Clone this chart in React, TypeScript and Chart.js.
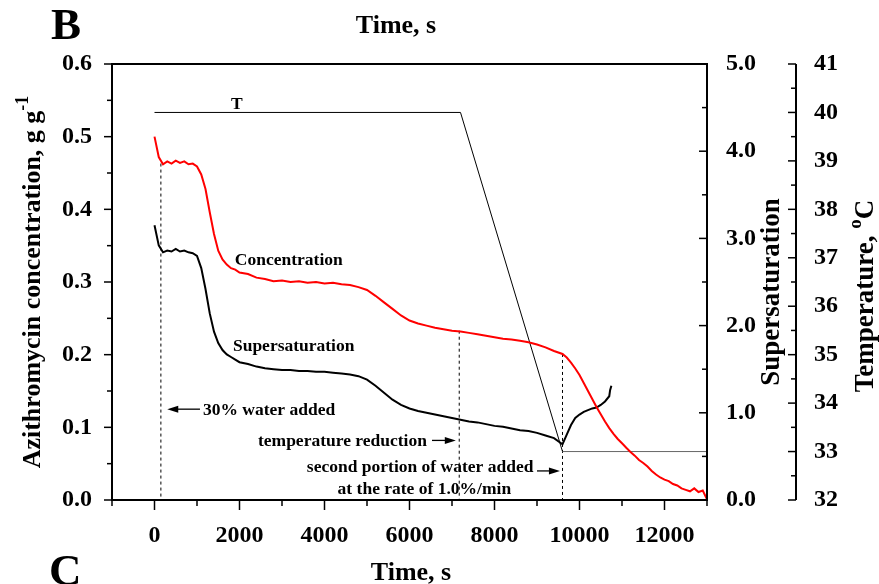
import React, { useEffect, useRef } from 'react';
import { Chart, registerables } from 'chart.js';

Chart.register(...registerables);

const FONT = '"Liberation Serif", "Times New Roman", serif';

// ---- axis ranges / tick labels ----
const X_MIN = -1000;
const X_MAX = 13000;
const X_LABELS = [0, 2000, 4000, 6000, 8000, 10000, 12000];
const CONC_MIN = 0;
const CONC_MAX = 0.6;
const CONC_LABELS = [0, 0.1, 0.2, 0.3, 0.4, 0.5, 0.6];
const SUP_MIN = 0;
const SUP_MAX = 5;
const SUP_LABELS = [0, 1, 2, 3, 4, 5];
const TEMP_MIN = 32;
const TEMP_MAX = 41;
const TEMP_LABELS = [32, 33, 34, 35, 36, 37, 38, 39, 40, 41];

// ---- concentration (g/g) ----
const concTime = [
  0, 100, 200, 300, 400, 500, 600, 700, 800, 900, 1000, 1100, 1200, 1300, 1400, 1500, 1600, 1700, 1800, 1900, 2000,
  2200, 2400, 2600, 2800, 3000, 3200, 3400, 3600, 3800, 4000, 4200, 4400, 4600, 4800, 5000, 5200, 5400, 5600, 5800,
  6000, 6200, 6400, 6600, 6800, 7000, 7200, 7400, 7600, 7800, 8000, 8200, 8400, 8600, 8800, 9000, 9200, 9400, 9600,
  9700, 9800, 9900, 10000, 10100, 10200, 10300, 10400, 10500, 10600, 10700, 10800, 10900, 11000, 11100, 11200, 11300,
  11400, 11500, 11600, 11700, 11800, 11900, 12000, 12100, 12200, 12300, 12400, 12500, 12600, 12700, 12800, 12900, 13000,
];
const concValue = [
  0.500, 0.472, 0.462, 0.466, 0.463, 0.467, 0.464, 0.466, 0.462, 0.463, 0.459, 0.448, 0.428, 0.396, 0.366, 0.343, 0.331, 0.324, 0.319, 0.317, 0.313,
  0.311, 0.306, 0.304, 0.301, 0.302, 0.300, 0.301, 0.299, 0.300, 0.298, 0.299, 0.297, 0.296, 0.293, 0.289, 0.281, 0.272, 0.263, 0.254,
  0.247, 0.243, 0.240, 0.237, 0.235, 0.233, 0.232, 0.230, 0.228, 0.226, 0.224, 0.222, 0.221, 0.219, 0.217, 0.214, 0.210, 0.205, 0.201,
  0.196, 0.189, 0.181, 0.172, 0.161, 0.150, 0.139, 0.128, 0.118, 0.108, 0.099, 0.091, 0.084, 0.078, 0.072, 0.066, 0.061,
  0.055, 0.051, 0.046, 0.040, 0.035, 0.031, 0.028, 0.026, 0.022, 0.020, 0.016, 0.014, 0.012, 0.016, 0.011, 0.013, 0.001,
];

// ---- supersaturation ----
const supTime = [
  0, 100, 200, 300, 400, 500, 600, 700, 800, 900, 1000, 1100, 1200, 1300, 1400, 1500, 1600, 1700, 1800, 1900, 2000,
  2200, 2400, 2600, 2800, 3000, 3200, 3400, 3600, 3800, 4000, 4200, 4400, 4600, 4800, 5000, 5200, 5400, 5600, 5800,
  6000, 6200, 6400, 6600, 6800, 7000, 7200, 7400, 7600, 7800, 8000, 8200, 8400, 8600, 8800, 9000, 9200, 9400, 9600,
  9700, 9800, 9900, 10000, 10100, 10200, 10300, 10400, 10500, 10600, 10700, 10720, 10750,
];
const supValue = [
  3.15, 2.92, 2.84, 2.86, 2.85, 2.88, 2.85, 2.86, 2.84, 2.83, 2.80, 2.66, 2.42, 2.14, 1.93, 1.80, 1.72, 1.67, 1.64, 1.61, 1.58,
  1.56, 1.53, 1.51, 1.50, 1.49, 1.49, 1.48, 1.48, 1.47, 1.47, 1.46, 1.45, 1.44, 1.42, 1.38, 1.31, 1.23, 1.15, 1.09,
  1.05, 1.02, 1.00, 0.98, 0.96, 0.94, 0.92, 0.90, 0.89, 0.87, 0.85, 0.84, 0.82, 0.80, 0.79, 0.77, 0.74, 0.71, 0.64,
  0.75, 0.86, 0.94, 0.98, 1.01, 1.03, 1.05, 1.06, 1.09, 1.13, 1.19, 1.26, 1.31,
];

// ---- temperature profile (°C) ----
const tempTime = [0, 7200, 9600, 13000];
const tempValue = [40, 40, 33, 33];

// ---- event markers (dashed verticals, from concentration curve to 0) ----
const eventTime = [150, 7170, 9600];
const eventConc = [0.463, 0.233, 0.201];

function richText(
  ctx: CanvasRenderingContext2D,
  parts: { t: string; sup?: boolean }[],
  x: number,
  y: number,
  size: number,
  align: 'left' | 'center' | 'right',
  angle = 0,
) {
  ctx.save();
  ctx.translate(x, y);
  ctx.rotate(angle);
  const mainFont = `bold ${size}px ${FONT}`;
  const supFont = `bold ${Math.round(size * 0.7)}px ${FONT}`;
  let total = 0;
  const widths = parts.map((p) => {
    ctx.font = p.sup ? supFont : mainFont;
    const w = ctx.measureText(p.t).width;
    total += w;
    return w;
  });
  let cx = align === 'center' ? -total / 2 : align === 'right' ? -total : 0;
  ctx.textAlign = 'left';
  ctx.textBaseline = 'alphabetic';
  ctx.fillStyle = '#000';
  parts.forEach((p, i) => {
    ctx.font = p.sup ? supFont : mainFont;
    ctx.fillText(p.t, cx, p.sup ? -size * 0.45 : 0);
    cx += widths[i];
  });
  ctx.restore();
}

const decor = {
  id: 'decor',
  afterDraw(chart: any) {
    const ctx: CanvasRenderingContext2D = chart.ctx;
    const { left, right, top, bottom } = chart.chartArea;
    const xs = chart.scales.x;
    const ys = chart.scales.y;
    const ys1 = chart.scales.y1;
    const ys2 = chart.scales.y2;
    const tx = ys2.left + 11;
    ctx.save();
    ctx.strokeStyle = '#000';
    ctx.fillStyle = '#000';
    const seg = (a: number, b: number, c: number, d: number, w: number) => {
      ctx.lineWidth = w;
      ctx.beginPath();
      ctx.moveTo(a, b);
      ctx.lineTo(c, d);
      ctx.stroke();
    };
    // frame
    seg(left - 1, top, right + 1, top, 2);
    seg(left - 1, bottom, right + 1, bottom, 2);
    seg(left, top, left, bottom, 2);
    seg(right, top, right, bottom, 2);
    seg(tx, top, tx, bottom, 2);
    // x ticks (outward)
    for (let t = X_MIN; t <= X_MAX; t += 1000) {
      const px = xs.getPixelForValue(t);
      seg(px, bottom, px, bottom + (t % 2000 === 0 ? 10 : 6), 1.5);
    }
    // left ticks (outward)
    for (let k = 0; k <= 12; k++) {
      const py = ys.getPixelForValue(CONC_MIN + k * 0.05);
      seg(left - (k % 2 === 0 ? 8 : 5), py, left, py, 1.5);
    }
    // supersaturation ticks (inward)
    for (let k = 0; k <= 10; k++) {
      const py = ys1.getPixelForValue(SUP_MIN + k * 0.5);
      seg(right - (k % 2 === 0 ? 8 : 5), py, right, py, 1.5);
    }
    // temperature ticks (leftward)
    for (let k = 0; k <= 18; k++) {
      const py = ys2.getPixelForValue(TEMP_MIN + k * 0.5);
      seg(tx - (k % 2 === 0 ? 8 : 5), py, tx, py, 1.5);
    }

    // axis titles
    richText(ctx, [{ t: 'Azithromycin concentration, g g' }, { t: '-1', sup: true }], 40, (top + bottom) / 2, 26, 'center', -Math.PI / 2);
    richText(ctx, [{ t: 'Supersaturation' }], 779, 292, 27, 'center', -Math.PI / 2);
    richText(ctx, [{ t: 'Temperature, ' }, { t: 'o', sup: true }, { t: 'C' }], 873, 296, 27, 'center', -Math.PI / 2);
    richText(ctx, [{ t: 'Time, s' }], 396, 33, 26, 'center');
    richText(ctx, [{ t: 'Time, s' }], 411, 580, 26, 'center');
    richText(ctx, [{ t: 'B' }], 51, 39, 45, 'left');
    richText(ctx, [{ t: 'C' }], 49, 585, 45, 'left');

    // annotations (placed in data coordinates)
    const X = (t: number) => xs.getPixelForValue(t);
    const Y = (v: number) => ys.getPixelForValue(v);
    const AS = 17.5;
    const mid = (v: number) => Y(v) + 6; // baseline for text centred on v
    richText(ctx, [{ t: 'Concentration' }], X(1890), mid(0.332), AS, 'left');
    richText(ctx, [{ t: 'Supersaturation' }], X(1845), mid(0.213), AS, 'left');
    richText(ctx, [{ t: 'T' }], X(1940), ys2.getPixelForValue(40.2) + 6, AS, 'center');
    richText(ctx, [{ t: '30% water added' }], X(1140), mid(0.125), AS, 'left');
    richText(ctx, [{ t: 'temperature reduction' }], X(6410), mid(0.082), AS, 'right');
    richText(ctx, [{ t: 'second portion of water added' }], X(6250), mid(0.047), AS, 'center');
    richText(ctx, [{ t: 'at the rate of 1.0%/min' }], X(6350), mid(0.0165), AS, 'center');

    const arrow = (x1: number, x2: number, yy: number) => {
      // from x1 to x2, head at x2
      const dir = Math.sign(x2 - x1);
      seg(x1, yy, x2 - dir * 9, yy, 1.3);
      ctx.beginPath();
      ctx.moveTo(x2, yy);
      ctx.lineTo(x2 - dir * 11, yy - 3.5);
      ctx.lineTo(x2 - dir * 11, yy + 3.5);
      ctx.closePath();
      ctx.fill();
    };
    arrow(X(1070), X(300), Y(0.125));
    arrow(X(6530), X(7090), Y(0.082));
    arrow(X(9000), X(9540), Y(0.040));
    ctx.restore();
  },
};

export default function App() {
  const ref = useRef<HTMLCanvasElement>(null);
  useEffect(() => {
    if (!ref.current) return;
    Chart.defaults.font.family = FONT;
    const tickFont = { family: FONT, size: 24, weight: 'bold' as const };
    const near = (v: number, list: number[]) => list.some((l) => Math.abs(l - v) < 1e-6);
    const events = eventTime.map((t, i) => ({
      label: 'event' + i,
      data: [
        { x: t, y: eventConc[i] },
        { x: t, y: 0 },
      ],
      yAxisID: 'y',
      borderColor: '#000',
      borderWidth: 1,
      borderDash: [3, 3],
      pointRadius: 0,
    }));
    const chart = new Chart(ref.current, {
      type: 'line',
      data: {
        datasets: [
          {
            label: 'Concentration',
            data: concTime.map((t, i) => ({ x: t, y: concValue[i] })),
            yAxisID: 'y',
            borderColor: '#ff0000',
            borderWidth: 2,
            pointRadius: 0,
          },
          {
            label: 'Supersaturation',
            data: supTime.map((t, i) => ({ x: t, y: supValue[i] })),
            yAxisID: 'y1',
            borderColor: '#000',
            borderWidth: 2,
            pointRadius: 0,
          },
          {
            label: 'T',
            data: tempTime.map((t, i) => ({ x: t, y: tempValue[i] })),
            yAxisID: 'y2',
            borderColor: '#000',
            borderWidth: 1,
            pointRadius: 0,
            segment: {
              borderColor: (c: any) => (c.p0DataIndex === tempTime.length - 2 ? '#666' : '#000'),
            },
          },
          ...events,
        ] as any,
      },
      options: {
        responsive: false,
        devicePixelRatio: 1,
        animation: false,
        layout: { padding: { top: 64, left: 0, right: 0, bottom: 0 } },
        plugins: { legend: { display: false }, tooltip: { enabled: false } },
        scales: {
          x: {
            type: 'linear',
            position: 'bottom',
            min: X_MIN,
            max: X_MAX,
            afterFit: (s: any) => {
              s.height = 84;
            },
            grid: { display: false },
            border: { display: false },
            ticks: {
              stepSize: 1000,
              autoSkip: false,
              maxRotation: 0,
              padding: 13,
              color: '#000',
              font: tickFont,
              callback: (v: any) => (near(Number(v), X_LABELS) ? String(v) : ''),
            },
          },
          y: {
            type: 'linear',
            position: 'left',
            min: CONC_MIN,
            max: CONC_MAX,
            afterFit: (s: any) => {
              s.width = 112;
            },
            grid: { display: false },
            border: { display: false },
            ticks: {
              stepSize: 0.05,
              autoSkip: false,
              padding: 12,
              color: '#000',
              font: tickFont,
              callback: (v: any) => (near(Number(v), CONC_LABELS) ? Number(v).toFixed(1) : ''),
            },
          },
          y1: {
            type: 'linear',
            position: 'right',
            weight: 0,
            min: SUP_MIN,
            max: SUP_MAX,
            afterFit: (s: any) => {
              s.width = 78;
            },
            grid: { display: false },
            border: { display: false },
            ticks: {
              stepSize: 0.5,
              autoSkip: false,
              padding: 11,
              color: '#000',
              font: tickFont,
              callback: (v: any) => (near(Number(v), SUP_LABELS) ? Number(v).toFixed(1) : ''),
            },
          },
          y2: {
            type: 'linear',
            position: 'right',
            weight: 1,
            min: TEMP_MIN,
            max: TEMP_MAX,
            afterFit: (s: any) => {
              s.width = 94;
            },
            grid: { display: false },
            border: { display: false },
            ticks: {
              stepSize: 0.5,
              autoSkip: false,
              padding: 21,
              color: '#000',
              font: tickFont,
              callback: (v: any) => (near(Number(v), TEMP_LABELS) ? String(v) : ''),
            },
          },
        },
      } as any,
      plugins: [decor],
    });
    return () => chart.destroy();
  }, []);
  return (
    <div style={{ position: 'fixed', left: 0, top: 0, width: 879, height: 584, background: '#fff' }}>
      <canvas ref={ref} width={879} height={584} style={{ display: 'block', width: 879, height: 584 }} />
    </div>
  );
}
